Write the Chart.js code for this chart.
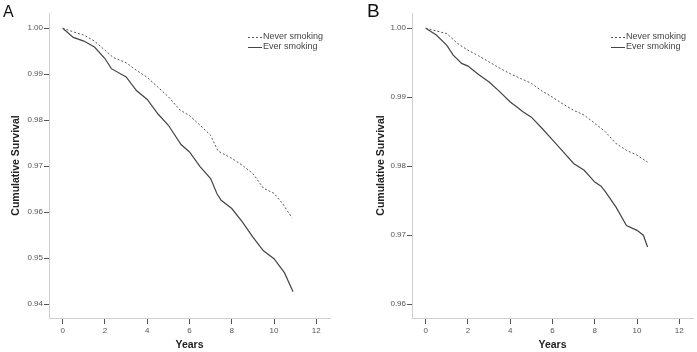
<!DOCTYPE html>
<html>
<head>
<meta charset="utf-8">
<script src="https://cdn.jsdelivr.net/npm/chart.js@4/dist/chart.umd.min.js"></script>
<style>
  body { margin: 0; background: #fff; width: 697px; height: 352px; position: relative; overflow: hidden; }
  .panel { position: absolute; top: 0; height: 352px; }
  .letra { position: absolute; font-family: "Liberation Sans", Arial, sans-serif; color: #111; }
</style>
</head>
<body>
<div class="panel" style="left:0;width:350px"><canvas id="graficoA"></canvas></div>
<div class="panel" style="left:350px;width:347px"><canvas id="graficoB"></canvas></div>
<div class="letra" style="left:3px;top:3px;font-size:16px">A</div>
<div class="letra" style="left:367px;top:0px;font-size:19px">B</div>
<script>
// Painel A
const anosNuncaA = [0, 0.5, 1, 1.5, 2, 2.4, 3, 3.5, 4, 4.5, 5, 5.55, 6, 6.5, 7, 7.35, 8, 8.5, 9, 9.5, 10, 10.4, 10.85];
const survNuncaA = [1.000, 0.9992, 0.9985, 0.9972, 0.9952, 0.9936, 0.9925, 0.9908, 0.9893, 0.9872, 0.9851, 0.9822, 0.9810, 0.9789, 0.9767, 0.9733, 0.9717, 0.9702, 0.9684, 0.9652, 0.9641, 0.9619, 0.9588];
const anosFumoA = [0, 0.5, 1, 1.5, 2, 2.3, 3, 3.5, 4, 4.5, 5, 5.6, 6, 6.5, 7, 7.3, 7.5, 8, 8.5, 9, 9.5, 10, 10.5, 10.9];
const survFumoA = [1.000, 0.9980, 0.9972, 0.9959, 0.9934, 0.9912, 0.9894, 0.9864, 0.9845, 0.9814, 0.9789, 0.9747, 0.9731, 0.9699, 0.9673, 0.9640, 0.9626, 0.9608, 0.9579, 0.9546, 0.9516, 0.9499, 0.9468, 0.9427];

// Painel B
const anosNuncaB = [0, 0.5, 1, 1.5, 2, 2.5, 3, 3.5, 4, 4.5, 5, 5.5, 6, 6.5, 7, 7.5, 8, 8.5, 9, 9.5, 10, 10.5];
const survNuncaB = [1.000, 0.9996, 0.9992, 0.9978, 0.9968, 0.9960, 0.9951, 0.9942, 0.9934, 0.9927, 0.9920, 0.9909, 0.9900, 0.9890, 0.9881, 0.9874, 0.9862, 0.9850, 0.9833, 0.9823, 0.9816, 0.9806];
const anosFumoB = [0, 0.5, 1, 1.3, 1.7, 2, 2.5, 3, 3.5, 4, 4.3, 4.6, 5, 5.5, 6, 6.5, 7, 7.5, 8, 8.3, 8.5, 9, 9.5, 10, 10.3, 10.5];
const survFumoB = [1.000, 0.9990, 0.9975, 0.9961, 0.9949, 0.9945, 0.9933, 0.9922, 0.9908, 0.9893, 0.9886, 0.9879, 0.9871, 0.9855, 0.9838, 0.9821, 0.9804, 0.9794, 0.9777, 0.9771, 0.9763, 0.9741, 0.9714, 0.9707, 0.9700, 0.9683];

const ticksX = [0, 2, 4, 6, 8, 10, 12];
const ticksYA = [1.00, 0.99, 0.98, 0.97, 0.96, 0.95, 0.94];
const ticksYB = [1.00, 0.99, 0.98, 0.97, 0.96];
const rotulos = ['Never smoking', 'Ever smoking'];

const fonte = '"Liberation Sans", Arial, sans-serif';

function pontos(xs, ys) {
  return xs.map((x, i) => ({ x: x, y: ys[i] }));
}

// legenda desenhada no canto superior direito
const legendaPlugin = {
  id: 'legendaCanto',
  afterDatasetsDraw(chart) {
    const ctx = chart.ctx;
    const area = chart.chartArea;
    const x0 = area.right - 82;
    ctx.save();
    ctx.font = '9px ' + fonte;
    ctx.textBaseline = 'middle';
    chart.data.datasets.forEach((ds, i) => {
      const y = 37 + i * 10;
      ctx.strokeStyle = ds.borderColor;
      ctx.lineWidth = 1;
      ctx.setLineDash(ds.borderDash || []);
      ctx.beginPath();
      ctx.moveTo(x0, y + 0.5);
      ctx.lineTo(x0 + 14, y + 0.5);
      ctx.stroke();
      ctx.setLineDash([]);
      ctx.fillStyle = '#444';
      ctx.fillText(ds.label, x0 + 15, y);
    });
    ctx.restore();
  }
};

function gerarGrafico(id, nunca, fumo, ticksY, yMin, yMax, padEsq, larguraY, padDir) {
  return new Chart(document.getElementById(id), {
    type: 'line',
    data: {
      datasets: [{
        label: rotulos[0],
        data: nunca,
        borderColor: '#555',
        borderWidth: 1,
        borderDash: [2, 2],
        pointRadius: 0,
        tension: 0
      }, {
        label: rotulos[1],
        data: fumo,
        borderColor: '#444',
        borderWidth: 1.2,
        pointRadius: 0,
        tension: 0
      }]
    },
    options: {
      responsive: true,
      maintainAspectRatio: false,
      animation: false,
      layout: { padding: { left: padEsq, right: padDir, top: 13, bottom: 0 } },
      plugins: { legend: { display: false }, tooltip: { enabled: false } },
      scales: {
        x: {
          type: 'linear',
          min: -0.65,
          max: 12.65,
          afterBuildTicks: s => { s.ticks = ticksX.map(v => ({ value: v })); },
          afterFit: s => { s.height = 34; },
          border: { color: '#cfcfcf' },
          grid: { drawOnChartArea: false, color: '#555', tickLength: 6 },
          ticks: { color: '#555', font: { size: 8, family: fonte }, padding: 2, maxRotation: 0 },
          title: { display: true, text: 'Years', color: '#222', font: { size: 10.5, weight: 'bold', family: fonte }, padding: { top: 0, bottom: 1 } }
        },
        y: {
          min: yMin,
          max: yMax,
          afterBuildTicks: s => { s.ticks = ticksY.map(v => ({ value: v })); },
          afterFit: s => { s.width = larguraY; },
          border: { color: '#cfcfcf' },
          grid: { drawOnChartArea: false, color: '#555', tickLength: 5 },
          ticks: { color: '#555', font: { size: 8, family: fonte }, padding: 1, callback: v => v.toFixed(2) },
          title: { display: true, text: 'Cumulative Survival', color: '#222', font: { size: 10.5, weight: 'bold', family: fonte }, padding: { top: 5, bottom: 0 } }
        }
      }
    },
    plugins: [legendaPlugin]
  });
}

gerarGrafico('graficoA', pontos(anosNuncaA, survNuncaA), pontos(anosFumoA, survFumoA), ticksYA, 0.937, 1.0033, 5, 44, 20);
gerarGrafico('graficoB', pontos(anosNuncaB, survNuncaB), pontos(anosFumoB, survFumoB), ticksYB, 0.958, 1.0022, 20, 42, 4);
</script>
</body>
</html>
